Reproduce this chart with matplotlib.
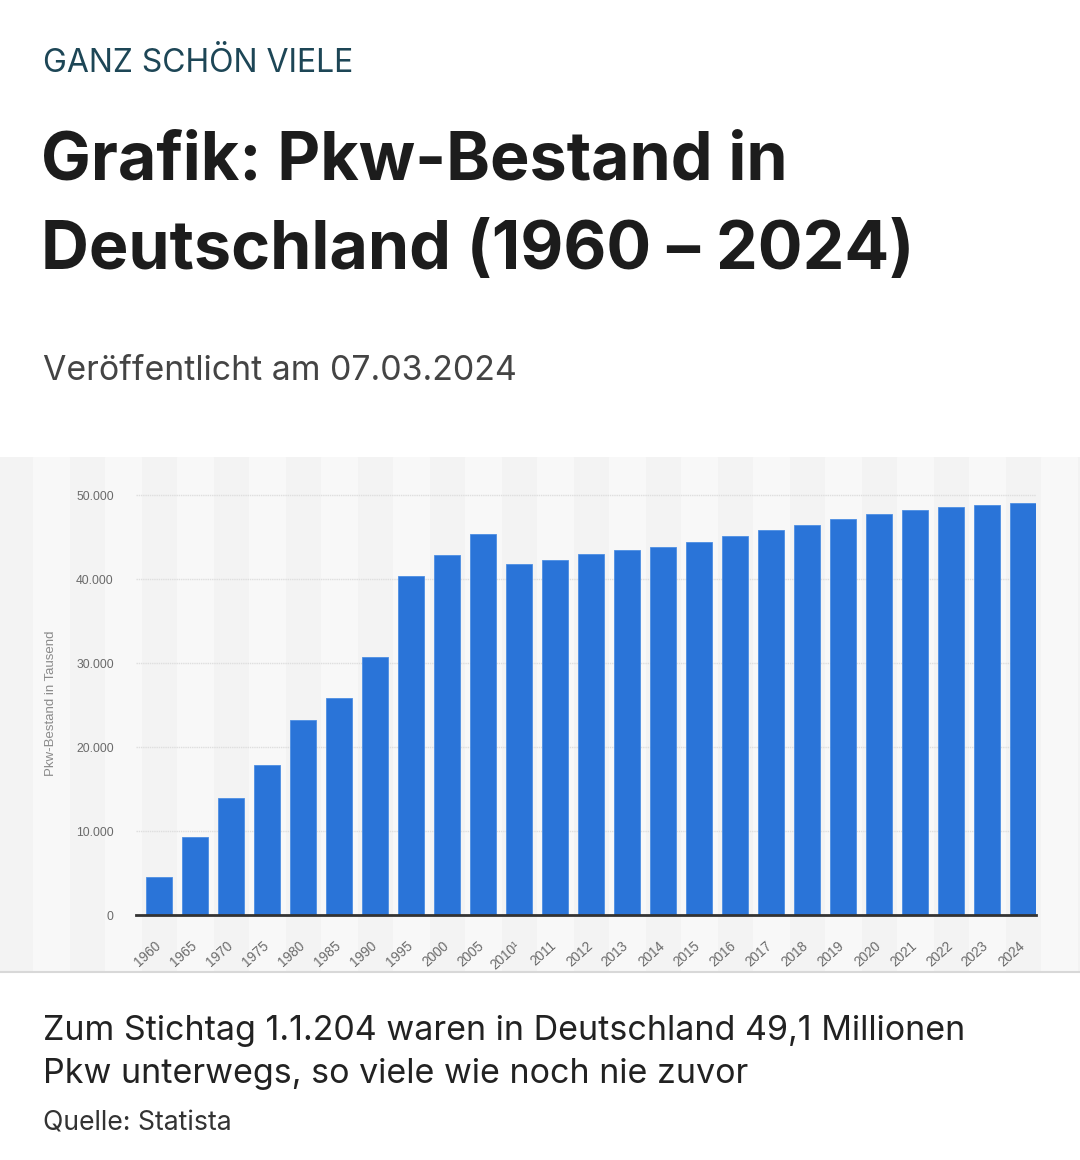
import matplotlib
matplotlib.use("Agg")
import matplotlib.pyplot as plt
from matplotlib.patches import Rectangle
from matplotlib.ticker import FuncFormatter
from matplotlib.transforms import ScaledTranslation

# -----------------------------
# Data (Pkw-Bestand in Tausend, Stichtag 1.1.)
# -----------------------------
years = ["1960", "1965", "1970", "1975", "1980", "1985", "1990", "1995", "2000",
         "2005", "2010¹", "2011", "2012", "2013", "2014", "2015", "2016", "2017",
         "2018", "2019", "2020", "2021", "2022", "2023", "2024"]
bestand = [4489, 9267, 13941, 17898, 23192, 25845, 30685, 40404, 42840,
           45376, 41738, 42302, 42928, 43431, 43851, 44403, 45071, 45804,
           46475, 47096, 47716, 48249, 48541, 48763, 49098]
y_ticks = [0, 10000, 20000, 30000, 40000, 50000]

W, H = 1080, 1160
fig = plt.figure(figsize=(W / 100, H / 100), dpi=100)
fig.patch.set_facecolor("white")


def fy(px):
    # pixel from top -> figure fraction
    return 1 - px / H


def fx(px):
    return px / W


# -----------------------------
# Chart panel background with stripes
# -----------------------------
panel_top, panel_bot = 457, 972
ax_l, ax_r = 136, 1036
xlim = (-0.65, len(years) - 0.65)
unit = (ax_r - ax_l) / (xlim[1] - xlim[0])

bg = fig.add_axes([0, fy(panel_bot), 1, (panel_bot - panel_top) / H])
bg_xlim = (xlim[0] - ax_l / unit, xlim[1] + (W - ax_r) / unit)
bg.set_xlim(bg_xlim)
bg.set_ylim(0, 1)
bg.axis("off")
bg.add_patch(Rectangle((bg_xlim[0], 0), bg_xlim[1] - bg_xlim[0], 1,
                       color="#f3f3f3", zorder=0))
for k in range(-5, len(years) + 3):
    if k % 2 == 1:
        bg.add_patch(Rectangle((k - 0.5, 0), 1, 1, color="#f8f8f8", zorder=1))
# bottom border of panel
fig.add_artist(plt.Line2D([0, 1], [fy(panel_bot), fy(panel_bot)],
                          color="#d8d8d8", lw=1.5))

# -----------------------------
# Bar chart
# -----------------------------
ymax = 50500
zero_px = 915
top_px = zero_px - ymax / 10000 * 84
ax = fig.add_axes([fx(ax_l), fy(zero_px), (ax_r - ax_l) / W,
                   (zero_px - top_px) / H])
ax.patch.set_alpha(0)
x = list(range(len(years)))
ax.bar(x, bestand, width=0.72, color="#2a74d8", edgecolor="#4d8ee3",
       linewidth=0.6, zorder=3)
ax.set_xlim(xlim)
ax.set_ylim(0, ymax)
ax.set_yticks(y_ticks)
ax.yaxis.set_major_formatter(FuncFormatter(lambda v, p: f"{int(v):,}".replace(",", ".")))
ax.grid(axis="y", color="#dedede", lw=1, ls=(0, (1, 0.6)), zorder=1)
for s in ["top", "right", "left"]:
    ax.spines[s].set_visible(False)
ax.spines["bottom"].set_color("#333333")
ax.spines["bottom"].set_linewidth(2)
ax.spines["bottom"].set_zorder(4)
ax.tick_params(axis="y", length=0, pad=16, labelsize=8.7, labelcolor="#6a6a6a")
ax.tick_params(axis="x", length=0, pad=17, labelsize=9.8, labelcolor="#6a6a6a")
ax.set_xticks(x)
ax.set_xticklabels(years, rotation=42, ha="right", va="top",
                   rotation_mode="anchor", family="Liberation Sans")
# nudge labels so their right end sits under the bar centre
shift = ScaledTranslation(-4 / 72, 0, fig.dpi_scale_trans)
for lab in ax.get_xticklabels():
    lab.set_transform(lab.get_transform() + shift)
for lab in ax.get_yticklabels():
    lab.set_family("Liberation Sans")
ax.set_ylabel("Pkw-Bestand in Tausend", fontsize=9.5, color="#8a8a8a",
              family="Liberation Sans", labelpad=14)

# -----------------------------
# Header and footer text
# -----------------------------
font = "Inter"
fig.text(fx(43), fy(72), "GANZ SCHÖN VIELE", fontsize=23, color="#1d4656",
         family=font, va="baseline")
fig.text(fx(41), fy(179), "Grafik: Pkw-Bestand in", fontsize=47.8, color="#1c1c1c",
         family=font, fontweight="bold", va="baseline")
fig.text(fx(41), fy(269), "Deutschland (1960 – 2024)", fontsize=47.8, color="#1c1c1c",
         family=font, fontweight="bold", va="baseline")
fig.text(fx(43), fy(380), "Veröffentlicht am 07.03.2024", fontsize=24.4,
         color="#444444", family=font, va="baseline")
fig.text(fx(43), fy(1040), "Zum Stichtag 1.1.204 waren in Deutschland 49,1 Millionen",
         fontsize=24.5, color="#222222", family=font, va="baseline")
fig.text(fx(43), fy(1083), "Pkw unterwegs, so viele wie noch nie zuvor",
         fontsize=24.5, color="#222222", family=font, va="baseline")
fig.text(fx(43), fy(1131), "Quelle: Statista", fontsize=19.2, color="#333333",
         family=font, va="baseline")

fig.savefig("out.png", dpi=100)
